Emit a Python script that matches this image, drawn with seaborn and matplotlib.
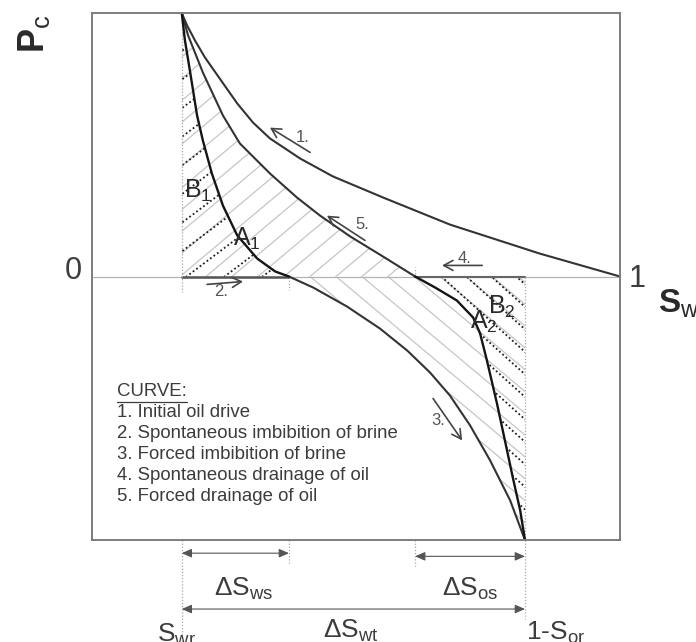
import numpy as np
import matplotlib
matplotlib.use("Agg")
import matplotlib.pyplot as plt
import seaborn as sns
from matplotlib.patches import Polygon

# Residual saturations
S_WR = 0.17
S_OR = 0.18

# Curve 1: initial oil drive
c1_sw = [0.17, 0.180, 0.195, 0.214, 0.242, 0.275, 0.305, 0.337, 0.394, 0.456, 0.551, 0.678, 0.848, 1.0]
c1_pc = [1.0, 0.953, 0.896, 0.831, 0.751, 0.657, 0.584, 0.524, 0.448, 0.380, 0.300, 0.197, 0.087, 0.0]

# Curves 2 + 3: spontaneous, then forced imbibition of brine
imb_sw = [0.17, 0.176, 0.186, 0.199, 0.210, 0.227, 0.248, 0.275, 0.313, 0.347, 0.373,
          0.419, 0.483, 0.545, 0.597, 0.640, 0.678, 0.716, 0.754, 0.792, 0.82]
imb_pc = [1.0, 0.896, 0.774, 0.611, 0.516, 0.391, 0.269, 0.156, 0.068, 0.019, 0.0,
          -0.042, -0.114, -0.197, -0.281, -0.364, -0.452, -0.565, -0.698, -0.850, -1.0]

# Curves 5 + 4: forced, then spontaneous drainage of oil
drn_sw = [0.17, 0.182, 0.210, 0.248, 0.280, 0.337, 0.388, 0.432, 0.489, 0.551, 0.612,
          0.650, 0.691, 0.722, 0.735, 0.748, 0.767, 0.782, 0.797, 0.811, 0.82]
drn_pc = [1.0, 0.915, 0.774, 0.611, 0.505, 0.391, 0.300, 0.231, 0.152, 0.076, 0.0,
          -0.042, -0.091, -0.156, -0.216, -0.319, -0.482, -0.622, -0.763, -0.888, -1.0]

legend_title = "CURVE:"
legend_items = ["1. Initial oil drive",
                "2. Spontaneous imbibition of brine",
                "3. Forced imbibition of brine",
                "4. Spontaneous drainage of oil",
                "5. Forced drainage of oil"]

sns.set_theme(style="white")
plt.rcParams["font.family"] = ["Liberation Sans", "DejaVu Sans"]
plt.rcParams["mathtext.fontset"] = "custom"
plt.rcParams["mathtext.rm"] = "Liberation Sans"
plt.rcParams["mathtext.it"] = "Liberation Sans"
plt.rcParams["mathtext.bf"] = "Liberation Sans:bold"

TXT = "#3c3c3c"
CURVE = "#333333"
DARK = "#151515"

fig = plt.figure(figsize=(6.96, 6.42), dpi=100)
ax = fig.add_axes([92 / 696, 102 / 642, 528 / 696, 527 / 642])
ax.set_xlim(0, 1)
ax.set_ylim(-1, 1)
ax.set_autoscale_on(False)
ax.set_xticks([])
ax.set_yticks([])
for sp in ax.spines.values():
    sp.set_color("#7d7d7d")
    sp.set_linewidth(1.4)

# zero-crossings of the hysteresis loop
k_imb = imb_pc.index(0.0)
k_drn = drn_pc.index(0.0)
sw_ws = imb_sw[k_imb]
sw_os = drn_sw[k_drn]
sw_max = 1 - S_OR

# pixel scale of the data units, used to lay out the hatching
p0 = ax.transData.transform((0, 0))
p1 = ax.transData.transform((1, 1))
SX, SY = p1[0] - p0[0], p1[1] - p0[1]


def hatch(poly, angle, step_px, phase=0.0, **kw):
    patch = Polygon(poly, closed=True, fill=False, edgecolor="none",
                    transform=ax.transData)
    ax.add_patch(patch)
    m = np.tan(np.radians(angle)) * SX / SY
    for c in np.arange(-2 + phase, 3, step_px / SX):
        ys = np.array([-1.5, 1.5])
        ln, = ax.plot(c + ys / m, ys, **kw)
        ln.set_clip_path(patch)


up_total = [(S_WR, 0)] + list(zip(drn_sw[:k_drn + 1], drn_pc[:k_drn + 1]))
up_spont = [(S_WR, 0)] + list(zip(imb_sw[:k_imb + 1], imb_pc[:k_imb + 1]))
lo_total = list(zip(imb_sw[k_imb:], imb_pc[k_imb:])) + [(sw_max, 0)]
lo_spont = list(zip(drn_sw[k_drn:], drn_pc[k_drn:])) + [(sw_max, 0)]

gray_kw = dict(color="#c6c6c6", lw=0.9, solid_capstyle="butt")
dot_kw = dict(color="#1e1e1e", lw=1.3, linestyle=(0, (1.0, 1.4)))
hatch(up_total, 40, 26, phase=0.0, **gray_kw)
hatch(lo_total, -40, 26, phase=0.0, **gray_kw)
hatch(up_spont, 37, 38, phase=0.02, **dot_kw)
hatch(lo_spont, -42, 25, phase=0.01, **dot_kw)

# zero line and the spontaneous segments along it
ax.axhline(0, color="#b4b4b4", lw=0.9)
ax.plot([S_WR, sw_ws], [0, 0], color="#555555", lw=1.8)
ax.plot([sw_os, sw_max], [0, 0], color="#666666", lw=1.5)

# dotted verticals
vkw = dict(color="#a8a8a8", lw=0.9, linestyle=(0, (1, 1.5)), clip_on=False)
ax.plot([S_WR, S_WR], [1, -0.06], **vkw)
ax.plot([sw_max, sw_max], [0, -1], **vkw)
ax.plot([sw_ws, sw_ws], [0, -0.05], **vkw)
ax.plot([sw_os, sw_os], [0, 0.035], **vkw)
ax.plot([S_WR, S_WR], [-1, -1.42], **vkw)
ax.plot([sw_max, sw_max], [-1, -1.30], **vkw)
ax.plot([sw_ws, sw_ws], [-1, -1.09], **vkw)
ax.plot([sw_os, sw_os], [-1, -1.10], **vkw)

# capillary pressure curves
sns.lineplot(x=c1_sw, y=c1_pc, sort=False, estimator=None, color=CURVE, lw=1.5, ax=ax)
sns.lineplot(x=drn_sw[:k_drn + 1], y=drn_pc[:k_drn + 1], sort=False, estimator=None,
             color=CURVE, lw=1.5, ax=ax)
sns.lineplot(x=imb_sw[k_imb:], y=imb_pc[k_imb:], sort=False, estimator=None,
             color=CURVE, lw=1.5, ax=ax)
sns.lineplot(x=imb_sw[:k_imb + 1], y=imb_pc[:k_imb + 1], sort=False, estimator=None,
             color=DARK, lw=1.7, ax=ax)
sns.lineplot(x=drn_sw[k_drn:], y=drn_pc[k_drn:], sort=False, estimator=None,
             color=DARK, lw=1.7, ax=ax)

# direction arrows along the curves
akw = dict(arrowstyle="->,head_length=0.55,head_width=0.3", color="#444444", lw=1.2,
           shrinkA=0, shrinkB=0)
arrows = [((0.413, 0.471), (0.337, 0.565), "1.", (0.398, 0.528)),
          ((0.517, 0.137), (0.445, 0.231), "5.", (0.511, 0.197)),
          ((0.218, -0.030), (0.286, -0.019), "2.", (0.245, -0.058)),
          ((0.739, 0.042), (0.663, 0.042), "4.", (0.706, 0.068)),
          ((0.646, -0.463), (0.701, -0.622), "3.", (0.655, -0.546))]
for tail, tip, lab, lpos in arrows:
    ax.annotate("", xy=tip, xytext=tail, arrowprops=akw)
    ax.text(*lpos, lab, fontsize=12, color="#555555", ha="center", va="center")

# point labels
for s, x, y in [("B$_1$", 0.174, 0.300), ("A$_1$", 0.267, 0.118),
                ("B$_2$", 0.750, -0.140), ("A$_2$", 0.716, -0.197)]:
    ax.text(x, y, s, fontsize=18, color="#2a2a2a", ha="left", va="baseline")

# axis annotations
ax.text(-0.036, 0.019, "0", fontsize=22, color=TXT, ha="center", va="center", clip_on=False)
ax.text(1.032, -0.011, "1", fontsize=22, color=TXT, ha="center", va="center", clip_on=False)
ax.text(1.072, -0.137, r"$\mathbf{S}_{\mathrm{w}}$", fontsize=24, color="#2a2a2a",
        ha="left", va="baseline", clip_on=False)
ax.text(-0.110, 0.922, r"$\mathbf{P}_{\mathrm{c}}$", fontsize=26, color="#2a2a2a",
        rotation=90, ha="center", va="center", clip_on=False)

# legend block
title = ax.text(0.047, -0.452, legend_title, fontsize=13.4, color=TXT, ha="left", va="baseline")
for i, item in enumerate(legend_items):
    ax.text(0.047, -0.535 - 0.0795 * i, item, fontsize=13.4, color=TXT,
            ha="left", va="baseline")

# saturation-change intervals below the frame
dkw = dict(arrowstyle="<|-|>,head_length=0.5,head_width=0.22", color="#555555", lw=0.8,
           shrinkA=0, shrinkB=0)
ax.annotate("", xy=(sw_ws, -1.050), xytext=(S_WR, -1.050), arrowprops=dkw, annotation_clip=False)
ax.annotate("", xy=(sw_max, -1.062), xytext=(sw_os, -1.062), arrowprops=dkw, annotation_clip=False)
ax.annotate("", xy=(sw_max, -1.262), xytext=(S_WR, -1.262), arrowprops=dkw, annotation_clip=False)

bkw = dict(fontsize=19, color=TXT, va="baseline", clip_on=False)
ax.text((S_WR + sw_ws) / 2 + 0.015, -1.211, r"$\Delta$S$_{\mathrm{ws}}$", ha="center", **bkw)
ax.text((sw_os + sw_max) / 2, -1.211, r"$\Delta$S$_{\mathrm{os}}$", ha="center", **bkw)
ax.text(0.491, -1.372, r"$\Delta$S$_{\mathrm{wt}}$", ha="center", **bkw)
ax.text(0.161, -1.385, r"S$_{\mathrm{wr}}$", ha="center", **bkw)
ax.text(0.879, -1.380, r"1-S$_{\mathrm{or}}$", ha="center", **bkw)

# underline the legend title
fig.canvas.draw()
bb = title.get_window_extent()
inv = ax.transData.inverted()
(x0, y0), (x1, _) = inv.transform([(bb.x0, bb.y0 - 2), (bb.x1, bb.y0 - 2)])
ax.plot([x0, x1], [y0, y0], color=TXT, lw=0.9)

fig.savefig("out.png", dpi=100)
